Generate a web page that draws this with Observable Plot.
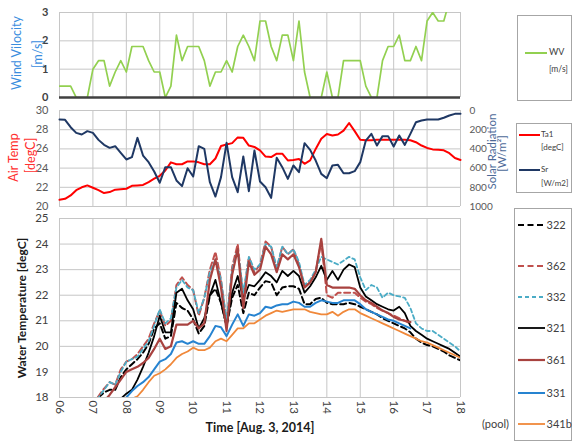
<!DOCTYPE html>
<html><head><meta charset="utf-8">
<script src="https://cdn.jsdelivr.net/npm/d3@7"></script>
<script src="https://cdn.jsdelivr.net/npm/@observablehq/plot@0.6"></script>
<style>
body{margin:0;background:#fff;}
#c{position:relative;width:572px;height:441px;overflow:hidden;background:#fff;font-family:Lato,"Liberation Sans",sans-serif;}
.lg{position:absolute;border:1px solid #a6a6a6;background:#fff;box-sizing:border-box;}
.lt{position:absolute;color:#404040;white-space:nowrap;line-height:1;}
</style></head><body><div id="c"></div>
<script>
// ---- data (10-minute samples) ----
const windStart = 6;   // hour of first sample
const wind = [
  0.4,0.4,0.4,0,0,0,
  1.0,1.3,1.3,0.4,0.9,1.3,
  0.9,1.8,1.8,1.8,1.3,0.9,
  0.9,0,0.4,2.2,1.3,1.8,
  1.8,1.8,1.3,0.4,0.9,0.9,
  1.3,0.9,1.8,2.2,1.8,1.3,
  2.7,2.7,1.8,1.3,2.2,2.2,
  1.3,2.7,0.9,0,0,0,
  0.9,0,0,1.3,1.3,1.3,
  1.3,0.4,0,0,1.3,1.8,
  1.8,2.2,1.3,1.3,1.8,1.3,
  2.7,3.0,2.7,2.7,3.4,3.5,
  3.5];
const airStart = 6;
const airTemp = [
  20.7,20.8,21.15,21.7,22.0,22.2,
  21.95,21.7,21.4,21.5,21.75,21.8,
  21.85,22.15,22.2,22.25,22.55,22.9,
  23.2,23.75,24.6,24.4,24.4,24.7,
  24.7,24.6,24.4,24.4,25.0,26.3,
  26.45,26.6,27.2,27.15,26.35,26.2,
  25.85,25.2,25.15,25.5,25.5,24.8,
  24.85,24.95,24.45,24.8,26.0,27.05,
  27.55,27.4,27.5,27.9,28.7,27.85,
  26.95,26.9,26.9,26.95,26.95,26.95,
  26.95,26.95,26.95,26.9,26.7,26.35,
  26.1,25.95,25.9,25.85,25.55,25.05,
  24.85];
const solar = [
  94,97,174,233,250,215,
  233,306,358,389,372,441,
  510,486,285,469,538,635,
  753,590,590,729,788,601,
  688,372,399,747,896,694,
  337,694,851,479,840,417,
  740,799,910,493,590,712,
  573,642,340,410,521,660,
  705,573,566,653,653,632,
  538,313,243,365,267,267,
  375,260,358,243,122,104,
  94,94,94,76,52,35,
  35];
const waterStart = 7;
const w322 = [
  17.7,18.0,18.2,18.3,18.3,18.8,
  19.1,19.3,19.5,19.75,20.1,20.7,
  20.9,20.3,20.4,21.7,21.5,21.4,
  21.05,20.5,20.8,22.0,22.25,21.7,
  20.8,21.9,22.4,21.3,22.1,22.0,
  22.3,22.55,22.5,22.0,22.3,22.35,
  22.35,22.25,21.65,21.65,21.85,21.9,
  21.7,21.65,21.65,21.65,21.7,21.65,
  21.55,21.45,21.35,21.25,21.1,21.0,
  20.9,20.8,20.7,20.55,20.3,20.15,
  20.05,20.0,19.9,19.8,19.65,19.55,
  19.45];
const w362 = [
  17.7,18.05,18.35,18.6,18.5,19.1,
  19.4,19.5,19.7,20.0,20.3,20.9,
  21.4,20.8,21.0,22.4,22.7,22.4,
  22.2,21.2,21.9,23.0,23.7,22.6,
  20.9,23.1,24.0,21.9,23.5,22.9,
  23.2,24.1,23.9,23.0,23.9,23.6,
  23.8,23.2,22.3,22.5,22.9,24.1,
  22.0,21.9,22.1,22.1,22.1,22.1,
  21.9,21.75,21.65,21.5,21.4,21.3,
  21.2,21.1,21.0,20.9];
const w332 = [
  17.7,18.0,18.3,18.6,18.5,19.0,
  19.4,19.5,19.6,19.9,20.2,20.8,
  21.45,20.9,21.1,22.3,22.6,22.3,
  22.2,21.3,21.9,22.9,23.4,22.6,
  21.0,23.0,23.8,22.1,23.5,23.0,
  23.2,24.0,23.9,23.1,23.9,23.6,
  23.8,23.3,22.4,22.6,23.0,23.5,
  23.4,23.3,23.2,23.35,23.5,23.4,
  22.7,22.2,22.4,22.3,21.9,22.1,
  22.0,21.95,21.9,21.5,20.9,20.7,
  20.6,20.6,20.45,20.3,20.15,20.0,
  19.8];
const w321 = [
  16.8,17.0,17.2,17.5,17.7,17.95,
  18.15,18.3,18.7,19.2,19.75,20.4,
  21.2,20.55,20.55,22.1,22.25,21.8,
  21.45,20.7,21.1,22.0,22.6,21.7,
  20.8,22.1,22.75,21.85,22.4,22.35,
  22.6,22.9,22.75,22.5,22.95,22.75,
  22.95,22.75,22.1,22.35,22.7,23.15,
  22.6,22.95,22.6,23.0,23.2,23.1,
  22.3,21.95,21.8,21.65,21.55,21.45,
  21.4,21.55,21.3,20.8,20.6,20.45,
  20.3,20.2,20.1,20.0,19.9,19.75,
  19.6];
const w361 = [
  17.3,17.6,17.85,18.1,18.4,18.7,
  19.0,19.1,19.2,19.35,19.55,19.9,
  20.3,19.9,20.0,20.85,20.85,20.85,
  21.0,20.7,20.9,22.6,23.4,22.3,
  20.6,22.8,23.8,21.5,23.3,22.8,
  23.0,23.9,23.6,22.9,23.6,23.4,
  23.6,23.1,22.3,22.5,22.9,24.2,
  22.4,22.3,22.3,22.3,22.3,22.25,
  22.0,21.8,21.7,21.55,21.4,21.3,
  21.15,21.05,21.0,20.95];
const w331 = [
  16.8,17.0,17.2,17.4,17.6,17.8,
  18.0,18.25,18.45,18.6,18.8,19.1,
  19.4,19.5,19.7,20.15,20.2,20.1,
  20.2,20.1,20.1,20.4,20.8,20.75,
  20.4,20.85,21.25,20.8,21.25,21.2,
  21.3,21.55,21.5,21.6,21.65,21.65,
  21.75,21.7,21.55,21.55,21.7,21.8,
  21.75,21.7,21.7,21.8,21.8,21.8,
  21.65,21.45,21.35,21.25,21.15,21.05,
  21.0,20.9,20.8,20.7];
const w341b = [
  16.5,16.7,16.9,17.1,17.3,17.5,
  17.7,17.95,18.05,18.3,18.6,18.85,
  18.95,19.1,19.3,19.55,19.7,19.8,
  19.95,19.85,19.85,19.95,20.2,20.3,
  20.2,20.45,20.7,20.7,20.9,20.9,
  21.05,21.2,21.3,21.4,21.35,21.4,
  21.45,21.45,21.45,21.35,21.3,21.25,
  21.25,21.35,21.2,21.35,21.45,21.45,
  21.3,21.2,21.1,21.0,20.9,20.8,
  20.7,20.6,20.5,20.4,20.3,20.2,
  20.15,20.05,19.95,19.85,19.75,19.65,
  19.55];
const waterNames = ["322","362","332","321","361","331","341b"];
const waterValues = [w322,w362,w332,w321,w361,w331,w341b];
const hourTicks = [6,7,8,9,10,11,12,13,14,15,16,17,18];

// ---- styles ----
const FONT = "Lato, 'Liberation Sans', sans-serif";
const waterStyle = {
  "322":  {stroke:"#000000", dash:"6,3.5", w:2},
  "362":  {stroke:"#C0504D", dash:"6,3.5", w:2},
  "332":  {stroke:"#4BACC6", dash:"4,3",   w:1.8},
  "321":  {stroke:"#000000", dash:null,    w:1.8},
  "361":  {stroke:"#A8423F", dash:null,    w:2.2},
  "331":  {stroke:"#2683D0", dash:null,    w:2},
  "341b": {stroke:"#F0883A", dash:null,    w:1.8}
};
const GRID = "#c6c6c6";
const toRows = (vals, start) => vals.map((v, i) => ({t: start + i / 6, v}));
const fmtH = d => (d < 10 ? "0" : "") + d;
const base = (top, height, mt, mb) => ({
  width: 572, height, marginLeft: 59, marginRight: 112, marginTop: mt, marginBottom: mb,
  style: {position:"absolute", left:"0px", top: top + "px", background:"transparent",
          overflow:"visible", fontFamily: FONT, color:"#404040"},
  x: {domain:[6,18], axis:null}
});
const c = document.getElementById("c");
const vtext = (txt, anchor, dx, dy, fill, size, weight) =>
  Plot.text([txt], {frameAnchor:anchor, textAnchor:"middle", dx, dy, rotate:-90, fill, fontSize:size, fontWeight:weight || "normal"});

// ---- panel 1: wind ----
c.append(Plot.plot({
  ...base(0, 105, 12, 8),
  y: {domain:[0,3], axis:null},
  marks: [
    Plot.gridX(hourTicks, {stroke:GRID, strokeOpacity:1}),
    Plot.gridY([1,2,3], {stroke:GRID, strokeOpacity:1}),
    Plot.axisY([0,1,2,3], {tickSize:0, tickPadding:11, fontSize:11, fontWeight:"bold", fill:"#404040", label:null}),
    Plot.line(toRows(wind, windStart), {x:"t", y:"v", stroke:"#92D050", strokeWidth:1.7, clip:true}),
    Plot.ruleY([0], {stroke:"#404040", strokeWidth:2.5}),
    vtext("Wind Vilocity", "left", -43, -2, "#3A8DDE", 12.5),
    vtext("[m/s]", "left", -22, -1, "#3A8DDE", 12.5)
  ]
}));

// ---- panel 2a: air temperature ----
c.append(Plot.plot({
  ...base(100, 115, 10, 9),
  y: {domain:[20,30], axis:null},
  marks: [
    Plot.gridX(hourTicks, {stroke:GRID, strokeOpacity:1}),
    Plot.gridY([20,22,24,26,28,30], {stroke:GRID, strokeOpacity:1}),
    Plot.axisY([20,22,24,26,28,30], {tickSize:0, tickPadding:11, fontSize:11, fill:"#595959", label:null}),
    Plot.line(toRows(airTemp, airStart), {x:"t", y:"v", stroke:"#FF0000", strokeWidth:2}),
    vtext("Air Temp", "left", -46, -1, "#FF3030", 12.5),
    vtext("[degC]", "left", -29, -3, "#FF3030", 12.5)
  ]
}));
// ---- panel 2b: solar radiation (right axis, reversed) ----
c.append(Plot.plot({
  ...base(100, 115, 10, 9),
  y: {domain:[0,1000], reverse:true, axis:null},
  marks: [
    Plot.axisY([0,200,400,600,800,1000], {anchor:"right", tickSize:0, tickPadding:9, fontSize:10, fill:"#595959", tickFormat:d => String(d), label:null}),
    Plot.line(toRows(solar, airStart), {x:"t", y:"v", stroke:"#1F3864", strokeWidth:2}),
    vtext("Solar Radiation", "right", 32, -7, "#4C6A98", 11.5),
    vtext("[W/m²]", "right", 42, -5, "#4C6A98", 11.5)
  ]
}));

// ---- panel 3: water temperature ----
const waterMarks = waterNames.map((n, k) => {
  const s = waterStyle[n];
  return Plot.line(toRows(waterValues[k], waterStart), {x:"t", y:"v", stroke:s.stroke, strokeWidth:s.w,
    strokeDasharray:s.dash || undefined, clip:true});
});
c.append(Plot.plot({
  ...base(210, 231, 8, 44),
  y: {domain:[18,25], axis:null},
  marks: [
    Plot.gridX(hourTicks, {stroke:GRID, strokeOpacity:1}),
    Plot.gridY([18,19,20,21,22,23,24,25], {stroke:GRID, strokeOpacity:1}),
    Plot.axisY([18,19,20,21,22,23,24,25], {tickSize:0, tickPadding:11, fontSize:11.5, fill:"#404040", label:null}),
    Plot.axisX(hourTicks, {tickSize:0, tickPadding:3, tickRotate:90, tickFormat:fmtH, fontSize:11.5, fill:"#404040", label:null}),
    ...waterMarks,
    vtext("Water Temperature [degC]", "left", -37, 0, "#1a1a1a", 12, "bold"),
    Plot.text(["Time [Aug. 3, 2014]"], {frameAnchor:"bottom", dx:0, dy:34, fill:"#1a1a1a", fontSize:12.5, fontWeight:"bold"})
  ]
}));

// ---- legends (HTML) ----
function box(l, t, w, h) {
  const d = document.createElement("div");
  d.className = "lg";
  Object.assign(d.style, {left:l+"px", top:t+"px", width:w+"px", height:h+"px"});
  c.append(d);
}
function swatch(x1, x2, y, s) {
  const ns = "http://www.w3.org/2000/svg";
  const svg = document.createElementNS(ns, "svg");
  svg.setAttribute("width", x2 - x1); svg.setAttribute("height", 6);
  Object.assign(svg.style, {position:"absolute", left:x1+"px", top:(y-3)+"px"});
  const ln = document.createElementNS(ns, "line");
  ln.setAttribute("x1", 0); ln.setAttribute("x2", x2 - x1);
  ln.setAttribute("y1", 3); ln.setAttribute("y2", 3);
  ln.setAttribute("stroke", s.stroke); ln.setAttribute("stroke-width", s.w);
  if (s.dash) ln.setAttribute("stroke-dasharray", s.dash);
  svg.append(ln); c.append(svg);
}
function label(x, y, txt, size) {
  const d = document.createElement("div");
  d.className = "lt"; d.textContent = txt;
  Object.assign(d.style, {left:x+"px", top:(y - size*0.55)+"px", fontSize:size+"px"});
  c.append(d);
}
box(517, 15, 55, 86);
swatch(525, 547, 52.5, {stroke:"#92D050", w:2});
label(549, 52, "WV", 9); label(549, 70, "[m/s]", 8.5);

box(516, 123, 56, 70);
swatch(519, 540, 135, {stroke:"#FF0000", w:2});
label(541, 134, "Ta1", 8); label(541, 147, "[degC]", 8);
swatch(519, 540, 170, {stroke:"#1F3864", w:2});
label(541, 169, "Sr", 8); label(541, 183, "[W/m2]", 8);

box(514, 208, 58, 233);
const legY = [225, 266, 297, 328, 360, 393, 424];
waterNames.forEach((n, k) => {
  swatch(518, 545, legY[k], waterStyle[n]);
  label(546.5, legY[k], n, 11);
});
label(482, 424, "(pool)", 11);
</script></body></html>
